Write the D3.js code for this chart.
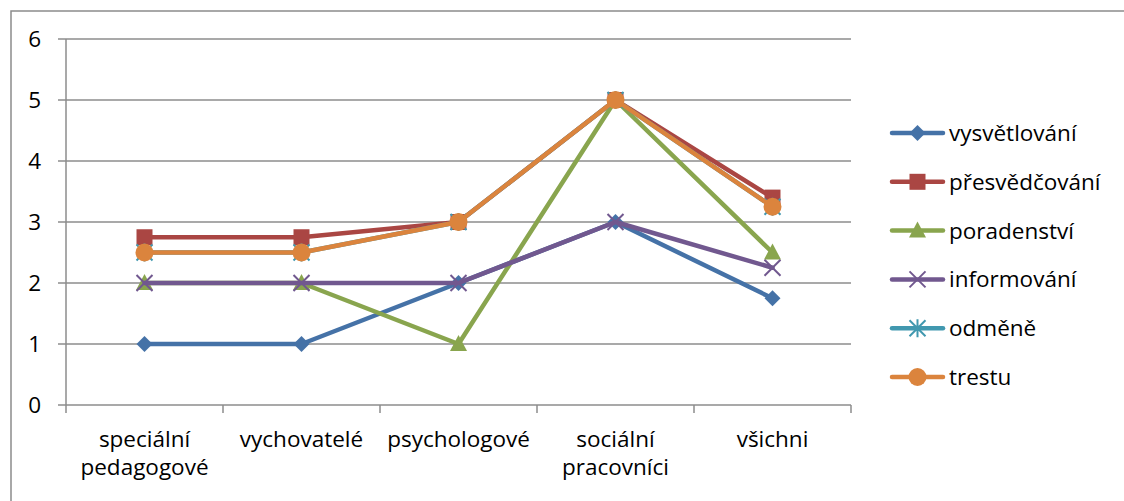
<!DOCTYPE html>
<html><head><meta charset="utf-8">
<script src="https://cdn.jsdelivr.net/npm/d3@7"></script>
<style>body{margin:0;background:#fff}svg{display:block}text{font-family:"Open Sans",sans-serif;fill:#000}</style>
</head><body><svg width="1124" height="501"></svg>
<script>
const categories = [["speciální","pedagogové"],["vychovatelé"],["psychologové"],["sociální","pracovníci"],["všichni"]];
const seriesNames = ["vysvětlování","přesvědčování","poradenství","informování","odměně","trestu"];
const vysvetlovani = [1,1,2,3,1.75];
const presvedcovani = [2.75,2.75,3,5,3.4];
const poradenstvi = [2,2,1,5,2.5];
const informovani = [2,2,2,3,2.25];
const odmene = [2.5,2.5,3,5,3.25];
const trestu = [2.5,2.5,3,5,3.25];
const yTicks = [0,1,2,3,4,5,6];

const colors = ["#4572a7","#aa4643","#89a54e","#71588f","#4198af","#db843d"];
const markers = ["diamond","square","triangle","x","asterisk","circle"];
const data = [vysvetlovani,presvedcovani,poradenstvi,informovani,odmene,trestu];
const FS = 22.5;

const svg = d3.select("svg");
svg.append("path").attr("d","M11,501V11H1124").attr("fill","none").attr("stroke","#8c8c8c").attr("stroke-width",1.5);

const L=66,R=851,T=39,B=405;
const x = d3.scaleBand().domain(d3.range(categories.length)).range([L,R]).padding(0);
const y = d3.scaleLinear().domain([0,6]).range([B,T]);

svg.append("g").selectAll("line").data(yTicks).join("line")
  .attr("x1",L-8).attr("x2",R).attr("y1",d=>y(d)).attr("y2",d=>y(d))
  .attr("stroke","#8c8c8c").attr("stroke-width",1.5);
svg.append("line").attr("x1",L).attr("x2",L).attr("y1",T).attr("y2",B).attr("stroke","#8c8c8c").attr("stroke-width",1.5);
const xt = d3.range(categories.length+1).map(i=>L+i*x.bandwidth());
svg.append("g").selectAll("line").data(xt).join("line")
  .attr("x1",d=>d).attr("x2",d=>d).attr("y1",B).attr("y2",B+8).attr("stroke","#8c8c8c").attr("stroke-width",1.5);
svg.append("g").selectAll("text").data(yTicks).join("text")
  .attr("x",41).attr("y",d=>y(d)+8).attr("text-anchor","end").attr("font-size",FS).text(d=>d);
const xl = svg.append("g").selectAll("text").data(categories).join("text")
  .attr("text-anchor","middle").attr("font-size",FS);
xl.each(function(d,i){
  const t=d3.select(this);
  d.forEach((s,j)=>t.append("tspan").attr("x",x(i)+x.bandwidth()/2).attr("y",447+j*28).text(s));
});

function drawMarker(g,type,cx,cy,col){
  if(type==="diamond"){
    g.append("path").attr("d",`M${cx},${cy-8}L${cx+8},${cy}L${cx},${cy+8}L${cx-8},${cy}Z`).attr("fill",col);
  } else if(type==="square"){
    g.append("rect").attr("x",cx-8).attr("y",cy-8).attr("width",16).attr("height",16).attr("fill",col);
  } else if(type==="triangle"){
    g.append("path").attr("d",`M${cx},${cy-9}L${cx+8.5},${cy+7}L${cx-8.5},${cy+7}Z`).attr("fill",col);
  } else if(type==="x"){
    g.append("path").attr("d",`M${cx-8},${cy-8}L${cx+8},${cy+8}M${cx+8},${cy-8}L${cx-8},${cy+8}`).attr("stroke",col).attr("stroke-width",2);
  } else if(type==="asterisk"){
    g.append("path").attr("d",`M${cx-8},${cy-8}L${cx+8},${cy+8}M${cx+8},${cy-8}L${cx-8},${cy+8}M${cx},${cy-9}L${cx},${cy+9}`).attr("stroke",col).attr("stroke-width",2);
  } else {
    g.append("circle").attr("cx",cx).attr("cy",cy).attr("r",9).attr("fill",col);
  }
}

const line = d3.line().x((d,i)=>x(i)+x.bandwidth()/2).y(d=>y(d));
data.forEach((vals,k)=>{
  const g = svg.append("g");
  g.append("path").attr("d",line(vals)).attr("fill","none").attr("stroke",colors[k]).attr("stroke-width",4.5).attr("stroke-linejoin","round").attr("stroke-linecap","round");
  vals.forEach((v,i)=>drawMarker(g,markers[k],x(i)+x.bandwidth()/2,y(v),colors[k]));
});

const lg = svg.append("g");
seriesNames.forEach((n,k)=>{
  const yy = 133 + k*48.8;
  lg.append("line").attr("x1",892).attr("x2",943).attr("y1",yy).attr("y2",yy).attr("stroke",colors[k]).attr("stroke-width",4.5).attr("stroke-linecap","round");
  drawMarker(lg,markers[k],917.5,yy,colors[k]);
  lg.append("text").attr("x",949).attr("y",yy+8).attr("font-size",FS).text(n);
});
</script></body></html>
